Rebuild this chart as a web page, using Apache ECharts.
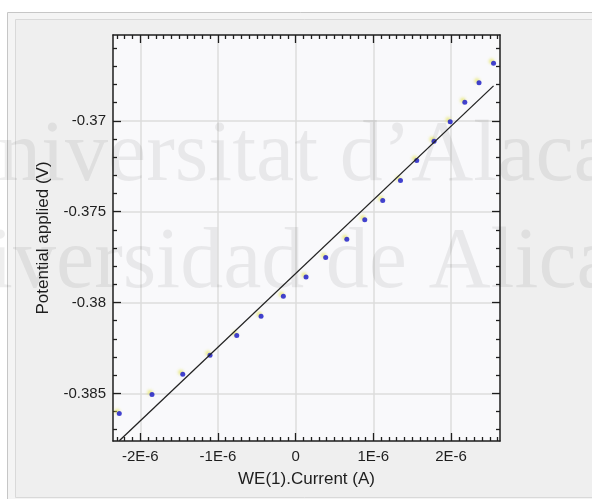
<!DOCTYPE html>
<html>
<head>
<meta charset="utf-8">
<title>Potential vs current</title>
<script src="https://cdn.jsdelivr.net/npm/echarts@6/dist/echarts.min.js"></script>
<style>
  html, body { margin: 0; padding: 0; background: #ffffff; }
  #chart { width: 592px; height: 499px; }
</style>
</head>
<body>
<div id="chart"></div>
<script>
// Measured working-electrode current (A) and the potential applied (V)
const currentA = [-2.270e-6, -1.849e-6, -1.453e-6, -1.102e-6, -0.758e-6, -0.445e-6, -0.158e-6,
                  0.134e-6, 0.387e-6, 0.659e-6, 0.890e-6, 1.121e-6, 1.350e-6, 1.559e-6,
                  1.782e-6, 1.990e-6, 2.178e-6, 2.361e-6, 2.548e-6];
const potentialV = [-0.38611, -0.38506, -0.38395, -0.38290, -0.38182, -0.38075, -0.37966,
                    -0.37860, -0.37752, -0.37652, -0.37545, -0.37438, -0.37329, -0.37219,
                    -0.37113, -0.37006, -0.36898, -0.36791, -0.36684];

// Linear fit drawn across the measured current range
const fitCurrentA = [-2.270e-6, 2.548e-6];
const fitPotentialV = [-0.38761, -0.36808];

// Axis extents and tick labels
const xRange = [-2.351e-6, 2.631e-6];
const yRange = [-0.38762, -0.36528];
const xTickValues = [-2e-6, -1e-6, 0, 1e-6, 2e-6];
const xTickLabels = ['-2E-6', '-1E-6', '0', '1E-6', '2E-6'];
const yTickValues = [-0.385, -0.38, -0.375, -0.37];
const yTickLabels = ['-0.385', '-0.38', '-0.375', '-0.37'];

// Minor tick positions: tenths of a µA on x, millivolts on y
const xMinorTicks = [];
for (let k = -23; k <= 26; k++) { if (k % 10 !== 0) xMinorTicks.push(k * 1e-7); }
const yMinorTicks = [];
for (let k = -387; k <= -366; k++) { if (k % 5 !== 0) yMinorTicks.push(k / 1000); }

const FONT = '"Liberation Sans", Arial, sans-serif';
const INK = '#1e1e1e';

function labelFor(values, labels, tol) {
  return function (v) {
    for (let i = 0; i < values.length; i++) {
      if (Math.abs(values[i] - v) < tol) return labels[i];
    }
    return '';
  };
}

function xAxisDef(position, major, withLabels) {
  const ticks = major ? xTickValues : xMinorTicks;
  return {
    type: 'value', position: position, min: xRange[0], max: xRange[1],
    axisLine: { show: major, onZero: false, lineStyle: { color: INK, width: 1.5 } },
    axisTick: { show: true, inside: true, length: major ? 8 : 4, customValues: ticks,
                lineStyle: { color: INK, width: 1.3 } },
    axisLabel: withLabels ? {
      show: true, customValues: xTickValues, margin: 8,
      formatter: labelFor(xTickValues, xTickLabels, 1e-12),
      color: INK, fontSize: 15, fontFamily: FONT
    } : { show: false },
    splitLine: withLabels ? { show: true, lineStyle: { color: '#dcdcdc', width: 1.5 } } : { show: false },
    name: withLabels ? 'WE(1).Current (A)' : '',
    nameLocation: 'middle', nameGap: 30,
    nameTextStyle: { color: INK, fontSize: 17, fontFamily: FONT }
  };
}

function yAxisDef(position, major, withLabels) {
  const ticks = major ? yTickValues : yMinorTicks;
  return {
    type: 'value', position: position, min: yRange[0], max: yRange[1],
    axisLine: { show: major, onZero: false, lineStyle: { color: INK, width: 1.5 } },
    axisTick: { show: true, inside: true, length: major ? 8 : 4, customValues: ticks,
                lineStyle: { color: INK, width: 1.3 } },
    axisLabel: withLabels ? {
      show: true, customValues: yTickValues, margin: 7,
      formatter: labelFor(yTickValues, yTickLabels, 1e-9),
      color: INK, fontSize: 15, fontFamily: FONT
    } : { show: false },
    splitLine: withLabels ? { show: true, lineStyle: { color: '#dcdcdc', width: 1.5 } } : { show: false },
    name: withLabels ? 'Potential applied (V)' : '',
    nameLocation: 'middle', nameGap: 61,
    nameTextStyle: { color: INK, fontSize: 17, fontFamily: FONT }
  };
}

const chart = echarts.init(document.getElementById('chart'), null, { renderer: 'canvas' });

chart.setOption({
  backgroundColor: '#ffffff',
  animation: false,
  graphic: [
    // window panel frames
    { type: 'rect', z: -10, silent: true,
      shape: { x: 7.5, y: 12.5, width: 600, height: 520 },
      style: { fill: '#f4f4f4', stroke: '#c6c6c6', lineWidth: 1 } },
    { type: 'rect', z: -9, silent: true,
      shape: { x: 15.5, y: 19.5, width: 600, height: 478 },
      style: { fill: '#efefef', stroke: '#d9d9d9', lineWidth: 1 } },
    // repository watermark
    { type: 'text', z: 100, silent: true, x: -64, y: 114,
      style: { text: 'Universitat d\u2019Alacant', font: '86px "Liberation Serif", serif',
               fill: 'rgba(0,0,0,0.065)', verticalAlign: 'top' } },
    { type: 'text', z: 100, silent: true, x: -116, y: 221,
      style: { text: 'Universidad de Alicante', font: '86px "Liberation Serif", serif',
               fill: 'rgba(0,0,0,0.065)', verticalAlign: 'top' } }
  ],
  grid: {
    left: 113, top: 35, right: 92, bottom: 58,
    show: true, backgroundColor: '#f9f9fb', borderWidth: 0
  },
  xAxis: [
    xAxisDef('bottom', true, true),
    xAxisDef('bottom', false, false),
    xAxisDef('top', true, false),
    xAxisDef('top', false, false)
  ],
  yAxis: [
    yAxisDef('left', true, true),
    yAxisDef('left', false, false),
    yAxisDef('right', true, false),
    yAxisDef('right', false, false)
  ],
  series: [
    {
      type: 'scatter', xAxisIndex: 0, yAxisIndex: 0, z: 3,
      symbol: 'circle', symbolSize: 5,
      itemStyle: { color: '#1414c8', shadowColor: 'rgba(225,225,60,0.8)', shadowBlur: 3,
                   shadowOffsetX: -2, shadowOffsetY: -2 },
      data: currentA.map((x, i) => [x, potentialV[i]])
    },
    {
      type: 'line', xAxisIndex: 0, yAxisIndex: 0, z: 4,
      showSymbol: false, symbol: 'none',
      lineStyle: { color: '#222222', width: 1.3 },
      data: fitCurrentA.map((x, i) => [x, fitPotentialV[i]])
    }
  ]
});
</script>
</body>
</html>
